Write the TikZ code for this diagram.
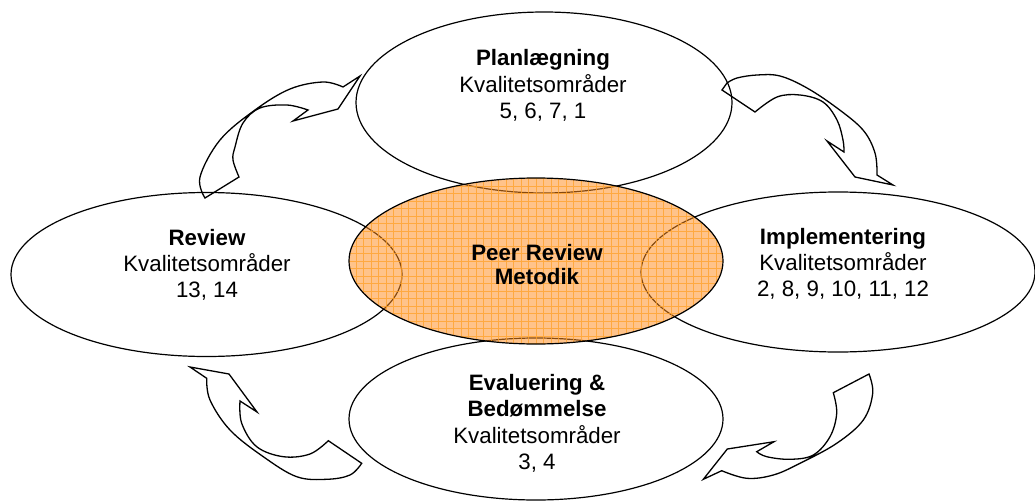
\documentclass[tikz,border=0pt]{standalone}
\usepackage{fontspec}
\setmainfont{Liberation Sans}
\usetikzlibrary{shapes.geometric}
\definecolor{orfill}{RGB}{255,140,30}
\definecolor{orgrid}{RGB}{255,160,40}
\tikzset{
  ell/.style={ellipse, draw, line width=1.2pt, inner sep=0pt},
  curvearrow/.style={draw, line width=1.3pt, line join=miter},
  txt/.style={font=\fontsize{22.3}{26}\selectfont, inner sep=0pt, anchor=base},
  btxt/.style={txt, font=\fontsize{22.3}{26}\selectfont\bfseries},
}
\begin{document}
\begin{tikzpicture}[x=1pt,y=-1pt]
\useasboundingbox (0,0) rectangle (1035,503);
% outer ellipses
\node[ell, minimum width=376pt, minimum height=181pt] (plan) at (544,102.5) {};
\node[ell, minimum width=391pt, minimum height=164pt] (rev) at (206.5,274.5) {};
\node[ell, minimum width=394pt, minimum height=160pt] (impl) at (838,272) {};
\node[ell, minimum width=374pt, minimum height=162pt] (eval) at (536,419) {};
% curved arrows
\draw[curvearrow] plot[smooth, tension=0.6] coordinates {(205,198) (200,177) (220,140) (255,110) (290,89) (323,82) (343,87)}
  -- (360,76) -- (338,109) -- (293,121) -- (308,110)
  -- plot[smooth, tension=0.6] coordinates {(308,110) (287,105) (260,108) (243,123) (235,147) (233,160) (239,177)} -- cycle;
\draw[curvearrow] plot[smooth, tension=0.6] coordinates {(755,112) (777,97) (800,95) (823,102) (837,120) (843,140) (844,152)}
  -- (827,141) -- (855,177) -- (893,185) -- (877,175)
  -- plot[smooth, tension=0.6] coordinates {(877,175) (875,153) (863,130) (837,108) (807,88) (780,76) (757,75) (737,78) (727,83)}
  -- (722,90) -- cycle;
\draw[curvearrow] (190,367) -- (229,374) -- (257,412) -- (240,401)
  -- plot[smooth, tension=0.6] coordinates {(240,401) (241.7,423.3) (256.7,446.7) (283.3,456.7) (310,454) (328.3,440.7)}
  -- (361.7,463.3)
  -- plot[smooth, tension=0.6] coordinates {(361.7,463.3) (350,475) (326.7,479.3) (296.7,476.7) (263.3,456.7) (230,430) (210,400) (206.7,378.3)} -- cycle;
\draw[curvearrow] (833.3,392.7) -- (869,374)
  -- plot[smooth, tension=0.6] coordinates {(869,374) (872.7,393.3) (863.3,420) (836.7,443.3) (800,463.3) (773.3,475) (746.7,478.3) (721.7,470.7)}
  -- (703.3,479.3) -- (727.3,449) -- (774,441.7) -- (756.7,451.7)
  -- plot[smooth, tension=0.6] coordinates {(756.7,451.7) (766.7,456.7) (790,459.3) (813.3,455) (830,436.7) (836.7,413.3) (833.3,392.7)} -- cycle;
% centre ellipse
\node[ell, minimum width=374pt, minimum height=166pt, fill=orfill, fill opacity=0.52,
  path picture={\draw[orgrid, line width=0.7pt, opacity=0.75, step=7.5pt]
    (path picture bounding box.south west) grid (path picture bounding box.north east);}] (peer) at (536,261) {};
% texts
\node[btxt] (p1) at (543,65.7) {Planlægning};
\node[txt] (p2) at (543,92.3) {Kvalitetsområder};
\node[txt] (p3) at (543,118.5) {5, 6, 7, 1};
\node[btxt] (r1) at (207,245) {Review};
\node[txt] (r2) at (207,271) {Kvalitetsområder};
\node[txt] (r3) at (207,297) {13, 14};
\node[btxt] (i1) at (843,244) {Implementering};
\node[txt] (i2) at (843,270) {Kvalitetsområder};
\node[txt] (i3) at (843,296.5) {2, 8, 9, 10, 11, 12};
\node[btxt] (e1) at (537,390) {Evaluering \&};
\node[btxt] (e2) at (537,416.5) {Bedømmelse};
\node[txt] (e3) at (537,443) {Kvalitetsområder};
\node[txt] (e4) at (537,469.5) {3, 4};
\node[btxt] (c1) at (537,260) {Peer Review};
\node[btxt] (c2) at (537,284.5) {Metodik};
\end{tikzpicture}
\end{document}
